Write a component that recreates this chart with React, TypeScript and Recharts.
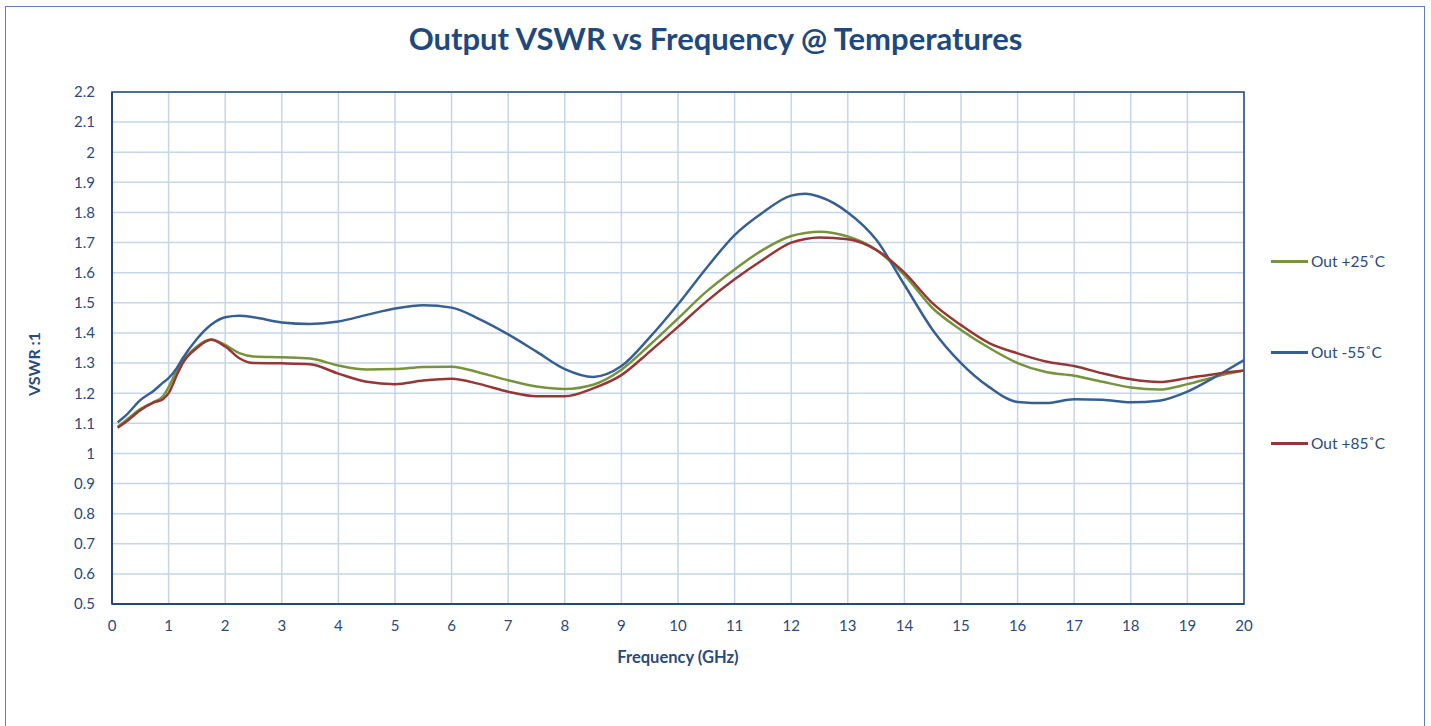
import React from 'react';
import { LineChart, Line, XAxis, YAxis, CartesianGrid, Legend, Label, ReferenceArea } from 'recharts';

const freqGHz = [0.1, 0.25, 0.5, 0.75, 0.9, 1.0, 1.15, 1.25, 1.5, 1.75, 2.0, 2.25, 2.5, 3.0, 3.5, 4.0, 4.5, 5.0, 5.5, 6.0, 6.5, 7.0, 7.5, 8.0, 8.5, 9.0, 9.5, 10.0, 10.5, 11.0, 11.5, 12.0, 12.25, 12.5, 13.0, 13.5, 14.0, 14.5, 15.0, 15.5, 16.0, 16.5, 17.0, 17.5, 18.0, 18.5, 19.0, 19.5, 20.0];

const vswrPlus25 = [1.088, 1.11, 1.147, 1.172, 1.19, 1.22, 1.277, 1.305, 1.355, 1.378, 1.36, 1.333, 1.322, 1.319, 1.315, 1.292, 1.279, 1.28, 1.287, 1.288, 1.268, 1.243, 1.222, 1.214, 1.228, 1.278, 1.36, 1.448, 1.537, 1.611, 1.676, 1.722, 1.732, 1.736, 1.72, 1.676, 1.592, 1.482, 1.41, 1.35, 1.3, 1.27, 1.258, 1.238, 1.219, 1.212, 1.23, 1.255, 1.275];

const vswrMinus55 = [1.103, 1.127, 1.177, 1.21, 1.235, 1.25, 1.285, 1.316, 1.38, 1.427, 1.452, 1.457, 1.452, 1.435, 1.43, 1.438, 1.46, 1.481, 1.492, 1.484, 1.445, 1.395, 1.338, 1.28, 1.254, 1.29, 1.385, 1.495, 1.615, 1.725, 1.8, 1.856, 1.862, 1.852, 1.8, 1.71, 1.56, 1.41, 1.3, 1.22, 1.171, 1.167, 1.18, 1.178, 1.17, 1.175, 1.205, 1.255, 1.31];

const vswrPlus85 = [1.085, 1.105, 1.143, 1.17, 1.18, 1.2, 1.262, 1.3, 1.35, 1.377, 1.355, 1.316, 1.3, 1.299, 1.296, 1.265, 1.238, 1.23, 1.242, 1.248, 1.23, 1.205, 1.19, 1.19, 1.216, 1.26, 1.338, 1.42, 1.504, 1.578, 1.643, 1.7, 1.712, 1.717, 1.711, 1.676, 1.6, 1.498, 1.426, 1.366, 1.332, 1.305, 1.29, 1.266, 1.246, 1.237, 1.25, 1.264, 1.275];

const xTicks = [0, 1, 2, 3, 4, 5, 6, 7, 8, 9, 10, 11, 12, 13, 14, 15, 16, 17, 18, 19, 20];
const yTicks = [0.5, 0.6, 0.7, 0.8, 0.9, 1.0, 1.1, 1.2, 1.3, 1.4, 1.5, 1.6, 1.7, 1.8, 1.9, 2.0, 2.1, 2.2];

const seriesNames = ['Out +25˚C', 'Out -55˚C', 'Out +85˚C'];
const seriesKeys = ['p25', 'm55', 'p85'];
const seriesColors = ['#77933C', '#376092', '#953735'];

const chartTitle = 'Output VSWR vs Frequency @ Temperatures';
const xTitle = 'Frequency (GHz)';
const yTitle = 'VSWR :1';

const data = freqGHz.map((f, i) => ({
  f,
  p25: vswrPlus25[i],
  m55: vswrMinus55[i],
  p85: vswrPlus85[i],
}));

const FONT = 'Lato, "Open Sans", sans-serif';
const TEXT = '#2A4B7C';
const AXIS = '#24487A';
const GRID = '#C5D5EA';
const FRAME = '#5F7FB2';

const fmt = (v: number) => String(Number(v.toFixed(1)));

const renderLegend = () => (
  <div style={{ fontFamily: FONT }}>
    {seriesNames.map((n, i) => (
      <div key={n} style={{ display: 'flex', alignItems: 'center', height: 20, marginBottom: i < 2 ? 71 : 0 }}>
        <div style={{ width: 37, height: 3, background: seriesColors[i] }} />
        <span style={{ marginLeft: 3, fontSize: 15.5, color: TEXT }}>{n}</span>
      </div>
    ))}
  </div>
);

export default function App() {
  return (
    <div style={{ position: 'absolute', left: 0, top: 0, width: 1431, height: 726, overflow: 'hidden', background: '#fff' }}>
      <div style={{ position: 'absolute', left: 0, top: 19, width: 1431, textAlign: 'center', fontFamily: FONT, fontWeight: 700, fontSize: 31, color: '#1F497D' }}>
        {chartTitle}
      </div>
      <div style={{ position: 'absolute', left: 0, top: 0 }}>
        <LineChart width={1431} height={726} data={data} margin={{ top: 92, right: 187, bottom: 92, left: 0 }}>
          <CartesianGrid stroke={GRID} strokeWidth={1.5} horizontalValues={yTicks} verticalValues={xTicks} />
          <XAxis
            dataKey="f"
            type="number"
            domain={[0, 20]}
            ticks={xTicks}
            height={30}
            tickLine={false}
            tickSize={0}
            tickMargin={16}
            axisLine={{ stroke: AXIS, strokeWidth: 2 }}
            tick={{ fill: TEXT, fontSize: 15, fontFamily: FONT }}
            interval={0}
            allowDataOverflow
          >
            <Label
              content={({ viewBox }: any) => (
                <text x={viewBox.x + viewBox.width / 2} y={663} textAnchor="middle" fill={TEXT} fontFamily={FONT} fontWeight={700} fontSize={16.5}>
                  {xTitle}
                </text>
              )}
            />
          </XAxis>
          <YAxis
            type="number"
            domain={[0.5, 2.2]}
            ticks={yTicks}
            width={112}
            tickLine={false}
            tickSize={0}
            tickMargin={17}
            tickFormatter={fmt}
            axisLine={{ stroke: AXIS, strokeWidth: 2 }}
            tick={{ fill: TEXT, fontSize: 15, fontFamily: FONT }}
            interval={0}
            allowDataOverflow
          >
            <Label
              content={() => (
                <text x={0} y={0} transform="translate(40 364) rotate(-90)" textAnchor="middle" fill={TEXT} fontFamily={FONT} fontWeight={700} fontSize={16}>
                  {yTitle}
                </text>
              )}
            />
          </YAxis>
          <ReferenceArea x1={0} x2={20} y1={0.5} y2={2.2} fill="none" stroke={AXIS} strokeWidth={1.5} ifOverflow="visible" />
          {seriesKeys.map((k, i) => (
            <Line
              key={k}
              dataKey={k}
              name={seriesNames[i]}
              type="monotone"
              stroke={seriesColors[i]}
              strokeWidth={2.5}
              dot={false}
              activeDot={false}
              isAnimationActive={false}
            />
          ))}
          <Legend
            layout="vertical"
            align="center"
            verticalAlign="middle"
            content={renderLegend}
            wrapperStyle={{ position: 'absolute', left: 1271, top: 251, width: 150 }}
          />
        </LineChart>
      </div>
      <div style={{ position: 'absolute', left: 5, top: 6, width: 1420, height: 760, boxSizing: 'border-box', borderTop: `1.5px solid ${FRAME}`, borderLeft: `1.5px solid ${FRAME}`, borderRight: `1.5px solid ${FRAME}`, pointerEvents: 'none', zIndex: 5 }} />
    </div>
  );
}
